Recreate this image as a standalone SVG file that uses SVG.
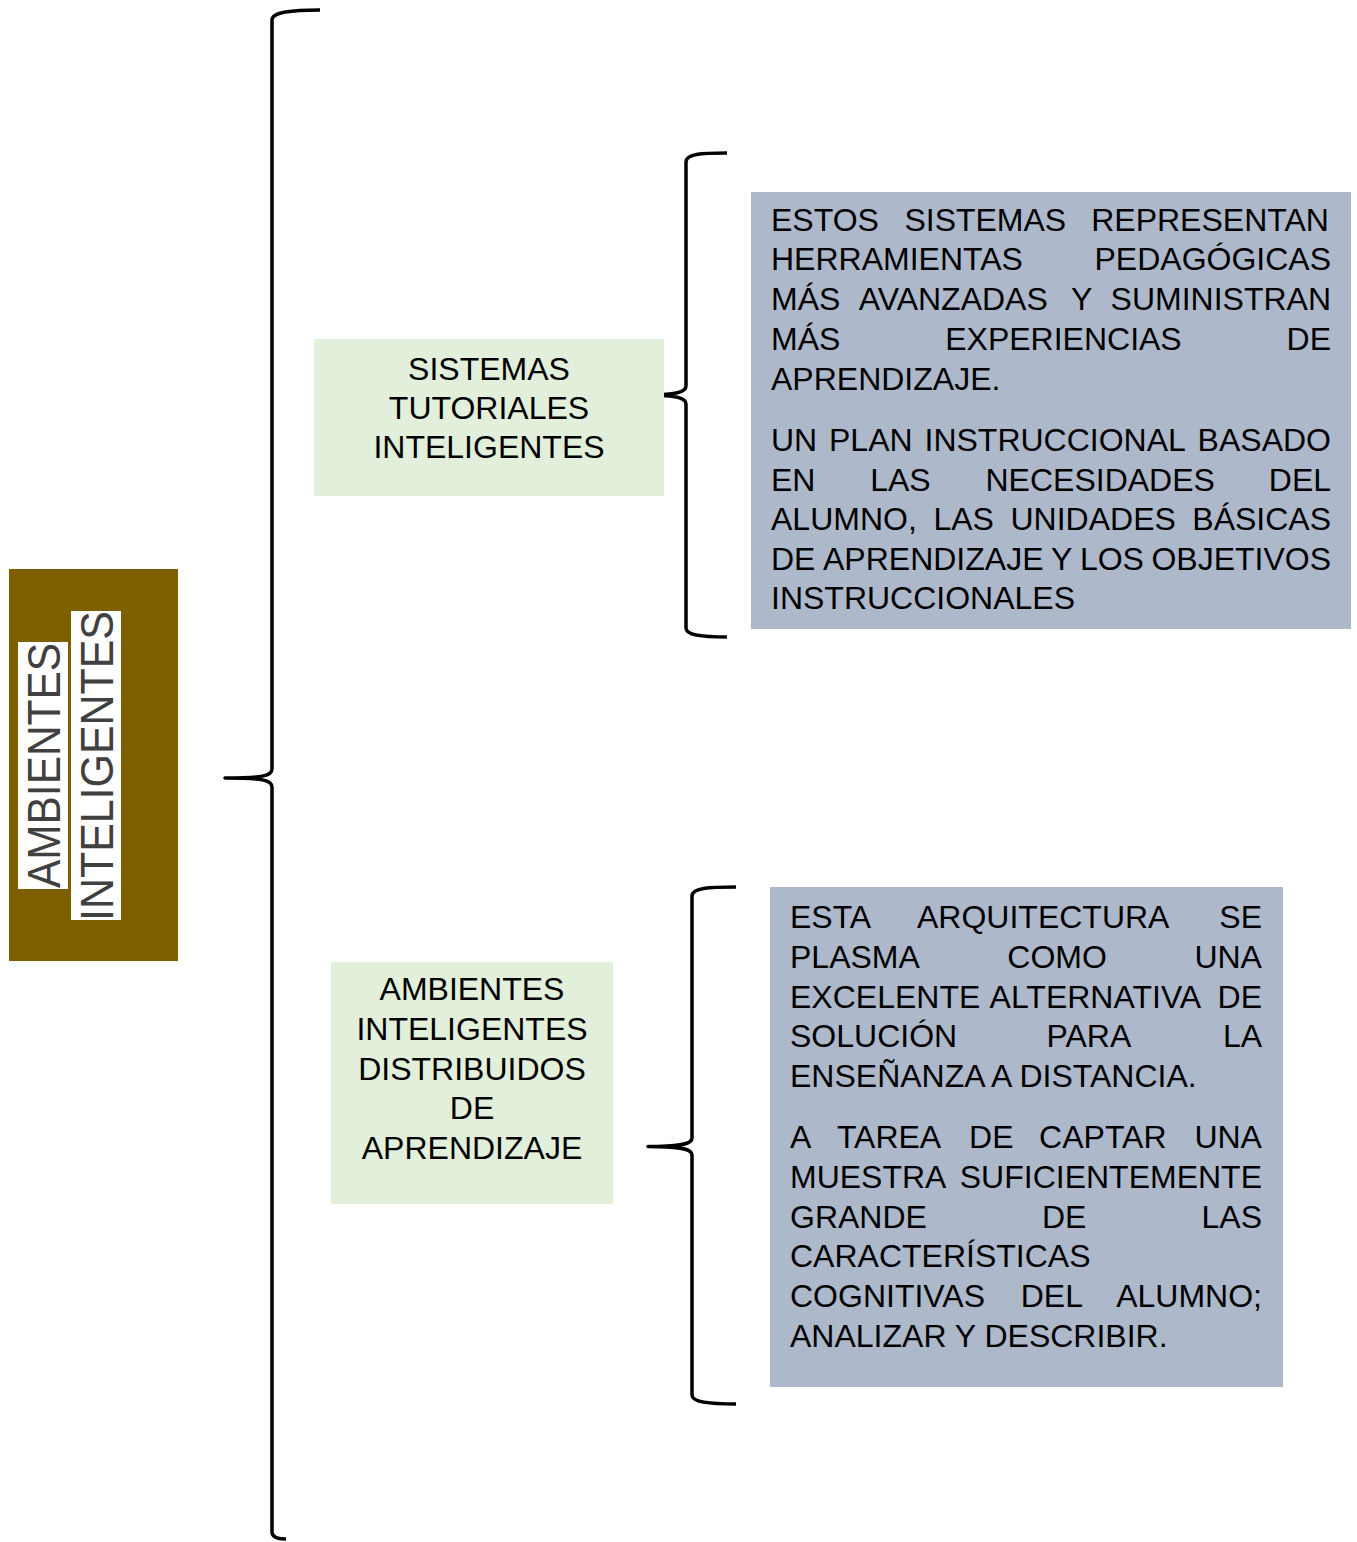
<svg xmlns="http://www.w3.org/2000/svg" width="1357" height="1542" viewBox="0 0 1357 1542">
<style>
.t{font-family:"Liberation Sans",Arial,sans-serif;font-size:32px;fill:#000}
.c{text-anchor:middle}
.e{text-anchor:end}
.v{font-family:"Liberation Sans",Arial,sans-serif;font-size:46px;fill:#404040}
.br{fill:none;stroke:#000;stroke-width:3.5;stroke-linecap:butt;stroke-linejoin:round}
.green{fill:#E2EFDA}
.blue{fill:#ADB9CA}
</style>
<rect width="1357" height="1542" fill="#fff"/>
<g id="root">
<rect x="9" y="569" width="169" height="392" fill="#7F6000"/>
<rect x="18" y="642" width="50" height="247" fill="#fff"/>
<rect x="71" y="611" width="50" height="309" fill="#fff"/>
<text class="v" transform="translate(60,888) rotate(-90)" textLength="245" lengthAdjust="spacingAndGlyphs">AMBIENTES</text>
<text class="v" transform="translate(113,921) rotate(-90)" textLength="310" lengthAdjust="spacingAndGlyphs">INTELIGENTES</text>
</g>
<g id="connectors">
<path class="br" d="M320 10 C292 10 272 12 272 20 L272 769 C272 776 262 778 225 778 C262 778 272 780 272 787 L272 1532 C272 1537 277 1539 286 1539"/>
<path class="br" d="M727 153 C700 153 686 154 686 162 L686 386 C686 392 676 395 646 395 C676 395 686 398 686 404 L686 628 C686 635 700 637 727 637"/>
<path class="br" d="M736 887 C708 887 692 888 692 896 L692 1138 C692 1144 682 1146.5 648 1146.5 C682 1146.5 692 1149 692 1155 L692 1395 C692 1402 708 1404 736 1404"/>
</g>
<g id="sti">
<rect class="green" x="314" y="339" width="350" height="157"/>
<text class="t c" x="489" y="380">SISTEMAS</text>
<text class="t c" x="489" y="419">TUTORIALES</text>
<text class="t c" x="489" y="458">INTELIGENTES</text>
</g>
<g id="sti-desc">
<rect class="blue" x="751" y="192" width="600" height="437"/>
<text class="t" y="231"><tspan x="771">ESTOS</tspan><tspan x="904.4">SISTEMAS</tspan><tspan x="1091.2">REPRESENTAN</tspan></text>
<text class="t" y="270"><tspan x="771">HERRAMIENTAS</tspan></text>
<text class="t e" x="1331" y="270">PEDAGÓGICAS</text>
<text class="t" y="310"><tspan x="771">MÁS</tspan><tspan x="858.7">AVANZADAS</tspan><tspan x="1070.9">Y</tspan><tspan x="1110.6">SUMINISTRAN</tspan></text>
<text class="t" y="350"><tspan x="771">MÁS</tspan><tspan x="945.2">EXPERIENCIAS</tspan><tspan x="1286.6">DE</tspan></text>
<text class="t" x="771" y="390">APRENDIZAJE.</text>
<text class="t" y="451"><tspan x="771">UN</tspan><tspan x="829">PLAN</tspan><tspan x="924.5">INSTRUCCIONAL</tspan><tspan x="1197.6">BASADO</tspan></text>
<text class="t" y="491"><tspan x="771">EN</tspan><tspan x="870.2">LAS</tspan><tspan x="985.5">NECESIDADES</tspan><tspan x="1268.8">DEL</tspan></text>
<text class="t" y="530"><tspan x="771">ALUMNO,</tspan><tspan x="933.4">LAS</tspan><tspan x="1010.5">UNIDADES</tspan><tspan x="1192.3">BÁSICAS</tspan></text>
<text class="t" y="570"><tspan x="771">DE</tspan><tspan x="823">APRENDIZAJE</tspan><tspan x="1051">Y</tspan><tspan x="1079.9">LOS</tspan><tspan x="1151.4">OBJETIVOS</tspan></text>
<text class="t" x="771" y="609">INSTRUCCIONALES</text>
</g>
<g id="aida">
<rect class="green" x="331" y="962" width="282" height="242"/>
<text class="t c" x="472" y="1000">AMBIENTES</text>
<text class="t c" x="472" y="1040">INTELIGENTES</text>
<text class="t c" x="472" y="1080">DISTRIBUIDOS</text>
<text class="t c" x="472" y="1119">DE</text>
<text class="t c" x="472" y="1159">APRENDIZAJE</text>
</g>
<g id="aida-desc">
<rect class="blue" x="770" y="887" width="513" height="500"/>
<text class="t" y="928"><tspan x="790">ESTA</tspan><tspan x="917">ARQUITECTURA</tspan><tspan x="1219.3">SE</tspan></text>
<text class="t" y="968"><tspan x="790">PLASMA</tspan><tspan x="1007.3">COMO</tspan><tspan x="1194.4">UNA</tspan></text>
<text class="t" y="1008"><tspan x="790">EXCELENTE</tspan><tspan x="989.6">ALTERNATIVA</tspan><tspan x="1217.6">DE</tspan></text>
<text class="t" y="1047"><tspan x="790">SOLUCIÓN</tspan><tspan x="1046.5">PARA</tspan><tspan x="1222.9">LA</tspan></text>
<text class="t" x="790" y="1087">ENSEÑANZA A DISTANCIA.</text>
<text class="t" y="1148"><tspan x="790">A</tspan><tspan x="836.9">TAREA</tspan><tspan x="969.1">DE</tspan><tspan x="1039.1">CAPTAR</tspan><tspan x="1194.4">UNA</tspan></text>
<text class="t" x="790" y="1188">MUESTRA</text>
<text class="t e" x="1262" y="1188">SUFICIENTEMENTE</text>
<text class="t" y="1228"><tspan x="790">GRANDE</tspan><tspan x="1042">DE</tspan><tspan x="1201.5">LAS</tspan></text>
<text class="t" x="790" y="1267">CARACTERÍSTICAS</text>
<text class="t" y="1307"><tspan x="790">COGNITIVAS</tspan><tspan x="1020.7">DEL</tspan><tspan x="1116.2">ALUMNO;</tspan></text>
<text class="t" x="790" y="1347">ANALIZAR Y DESCRIBIR.</text>
</g>
</svg>
